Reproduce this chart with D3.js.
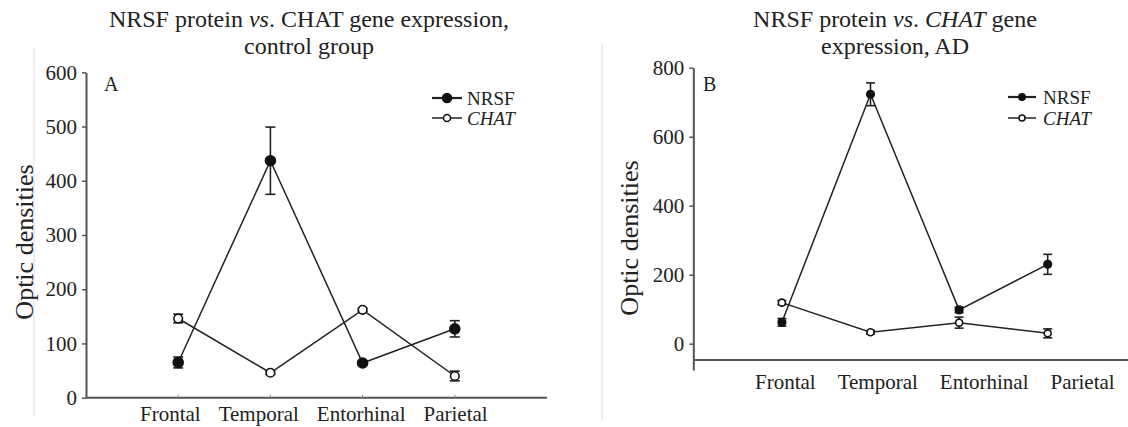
<!DOCTYPE html>
<html>
<head>
<meta charset="utf-8">
<script src="https://cdn.jsdelivr.net/npm/d3@7"></script>
<style>
body { margin: 0; background: #fff; }
svg text { font-family: "Liberation Serif", "Times New Roman", serif; fill: #222; }
</style>
</head>
<body>
<div id="chart"></div>
<script>
var regions = ["Frontal", "Temporal", "Entorhinal", "Parietal"];

// panel A, control group
var ctrlNrsf = [65, 437, 64, 127];
var ctrlNrsfErr = [10, 62, 4, 15];
var ctrlChat = [146, 46, 162, 40];
var ctrlChatErr = [8, 3, 3, 9];
var ctrlTicks = [0, 100, 200, 300, 400, 500, 600];

// panel B, AD
var adNrsf = [62, 723, 98, 230];
var adNrsfErr = [11, 33, 8, 29];
var adChat = [119, 33, 61, 30];
var adChatErr = [6, 5, 16, 13];
var adTicks = [0, 200, 400, 600, 800];

var serif = '"Liberation Serif", "Times New Roman", serif';

var svg = d3.select("#chart").append("svg")
    .attr("width", 1128)
    .attr("height", 427);

function drawPanel(p) {
    var g = svg.append("g");

    var y = d3.scaleLinear().domain(p.yDomain).range([p.bottom, p.top]);
    // category index 1..4 sits between the axis start and 5 steps further
    var x = d3.scaleLinear().domain([0, 5]).range([p.left, p.left + 5 * p.step]);

    // faint frame edge left over from the scan
    g.append("line")
        .attr("x1", p.frameX).attr("x2", p.frameX)
        .attr("y1", p.frameY[0]).attr("y2", p.frameY[1])
        .attr("stroke", "#e8e8e8").attr("stroke-width", 1.5);

    // y axis
    g.append("g")
        .attr("transform", "translate(" + p.left + ",0)")
        .call(d3.axisLeft(y).tickValues(p.ticks).tickSize(4).tickSizeOuter(0).tickPadding(5))
        .call(function(a) {
            a.attr("font-family", serif).attr("font-size", null);
            a.select(".domain").attr("stroke", "#555").attr("stroke-width", 2);
            a.selectAll(".tick line").attr("stroke", "#555").attr("stroke-width", 1.5);
            a.selectAll(".tick text")
                .style("font-family", serif)
                .style("font-size", "21px")
                .attr("fill", "#222");
        });

    // x axis line
    var baseY = y(p.xAxisValue);
    g.append("line")
        .attr("x1", p.left).attr("x2", p.xAxisEnd)
        .attr("y1", baseY).attr("y2", baseY)
        .attr("stroke", "#555").attr("stroke-width", 2);

    if (p.xTicks) {
        g.selectAll("line.xt").data(regions).enter().append("line")
            .attr("class", "xt")
            .attr("x1", function(d, i) { return x(i + 1); })
            .attr("x2", function(d, i) { return x(i + 1); })
            .attr("y1", baseY).attr("y2", baseY - 3)
            .attr("stroke", "#888").attr("stroke-width", 1);
    }

    // category labels, laid out as a row with a fixed gap
    var cx = p.catStart;
    g.selectAll("text.cat").data(regions).enter().append("text")
        .attr("class", "cat")
        .attr("y", p.catY)
        .style("font-size", "21px")
        .text(function(d) { return d; })
        .each(function() {
            var w = this.getComputedTextLength();
            d3.select(this).attr("x", cx);
            cx += w + p.catGap;
        });

    var line = d3.line()
        .x(function(d, i) { return x(i + 1); })
        .y(function(d) { return y(d); });

    p.series.forEach(function(s) {
        g.append("path")
            .datum(s.values)
            .attr("d", line)
            .attr("fill", "none")
            .attr("stroke", "#222")
            .attr("stroke-width", 1.5);
    });

    // error bars
    p.series.forEach(function(s) {
        var eb = g.append("g").selectAll("g").data(s.values).enter().append("g");
        eb.append("line")
            .attr("x1", function(d, i) { return x(i + 1); })
            .attr("x2", function(d, i) { return x(i + 1); })
            .attr("y1", function(d, i) { return y(d - s.err[i]); })
            .attr("y2", function(d, i) { return y(d + s.err[i]); })
            .attr("stroke", "#222").attr("stroke-width", 1.6);
        [-1, 1].forEach(function(sign) {
            eb.append("line")
                .attr("x1", function(d, i) { return x(i + 1) - p.cap; })
                .attr("x2", function(d, i) { return x(i + 1) + p.cap; })
                .attr("y1", function(d, i) { return y(d + sign * s.err[i]); })
                .attr("y2", function(d, i) { return y(d + sign * s.err[i]); })
                .attr("stroke", "#222").attr("stroke-width", 1.6);
        });
    });

    // markers
    p.series.forEach(function(s) {
        g.append("g").selectAll("circle").data(s.values).enter().append("circle")
            .attr("cx", function(d, i) { return x(i + 1); })
            .attr("cy", function(d) { return y(d); })
            .attr("r", s.filled ? p.r : p.rOpen)
            .attr("fill", s.filled ? "#111" : "#fff")
            .attr("stroke", "#111")
            .attr("stroke-width", 1.6);
    });

    // legend
    p.series.forEach(function(s, k) {
        var ly = p.legY[k];
        g.append("line")
            .attr("x1", p.legX[0]).attr("x2", p.legX[1])
            .attr("y1", ly).attr("y2", ly)
            .attr("stroke", "#222").attr("stroke-width", s.filled ? 2.2 : 1.5);
        g.append("circle")
            .attr("cx", (p.legX[0] + p.legX[1]) / 2).attr("cy", ly)
            .attr("r", s.filled ? p.legR[0] : p.legR[1])
            .attr("fill", s.filled ? "#111" : "#fff")
            .attr("stroke", "#111").attr("stroke-width", 1.5);
        g.append("text")
            .attr("x", p.legText).attr("y", ly).attr("dy", "0.35em")
            .style("font-size", "19px")
            .style("font-style", s.italic ? "italic" : "normal")
            .text(s.name);
    });

    // title, two lines with italic pieces
    p.title.forEach(function(parts, k) {
        var t = g.append("text")
            .attr("x", p.titleX).attr("y", p.titleY[k])
            .attr("text-anchor", "middle")
            .style("font-size", "24px");
        parts.forEach(function(pt) {
            t.append("tspan")
                .style("font-style", pt[1] ? "italic" : "normal")
                .text(pt[0]);
        });
    });

    g.append("text")
        .attr("x", p.letter[1]).attr("y", p.letter[2])
        .style("font-size", "20px")
        .text(p.letter[0]);

    g.append("text")
        .attr("transform", "translate(" + p.yTitle[0] + "," + p.yTitle[1] + ") rotate(-90)")
        .attr("text-anchor", "middle")
        .attr("dy", "0.35em")
        .style("font-size", "26px")
        .text("Optic densities");
}

drawPanel({
    left: 86, step: 92.2, top: 72.3, bottom: 397.7,
    yDomain: [0, 600], ticks: ctrlTicks,
    xAxisValue: 0, xAxisEnd: 547, xTicks: true,
    catStart: 140, catGap: 18, catY: 421,
    r: 5, rOpen: 4.3, cap: 5,
    series: [
        {name: "NRSF", values: ctrlNrsf, err: ctrlNrsfErr, filled: true, italic: false},
        {name: "CHAT", values: ctrlChat, err: ctrlChatErr, filled: false, italic: true}
    ],
    legX: [432, 462], legText: 467, legY: [98, 118], legR: [4.5, 3.5],
    title: [[["NRSF protein ", false], ["vs", true], [". CHAT gene expression,", false]],
            [["control group", false]]],
    titleX: 309, titleY: [27, 54],
    letter: ["A", 104, 91],
    yTitle: [24, 242],
    frameX: 34, frameY: [47, 417]
});

drawPanel({
    left: 693.3, step: 88.6, top: 67.7, bottom: 369.9,
    yDomain: [-76, 800], ticks: adTicks,
    xAxisValue: -47, xAxisEnd: 1128, xTicks: false,
    catStart: 755, catGap: 22, catY: 389,
    r: 3.8, rOpen: 3.5, cap: 4.5,
    series: [
        {name: "NRSF", values: adNrsf, err: adNrsfErr, filled: true, italic: false},
        {name: "CHAT", values: adChat, err: adChatErr, filled: false, italic: true}
    ],
    legX: [1008, 1036], legText: 1043, legY: [97, 118], legR: [3.2, 3],
    title: [[["NRSF protein ", false], ["vs", true], [". ", false], ["CHAT", true], [" gene", false]],
            [["expression, AD", false]]],
    titleX: 895, titleY: [27, 54],
    letter: ["B", 703, 91],
    yTitle: [629, 238],
    frameX: 602, frameY: [43, 421]
});
</script>
</body>
</html>
